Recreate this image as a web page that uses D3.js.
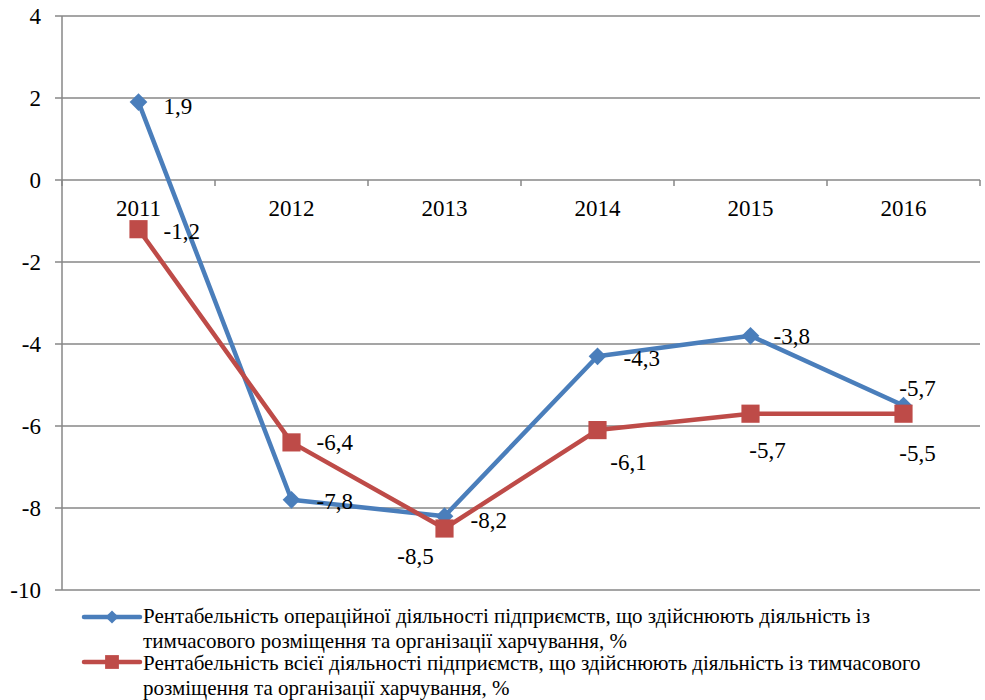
<!DOCTYPE html>
<html><head><meta charset="utf-8">
<script src="https://cdn.jsdelivr.net/npm/d3@7/dist/d3.min.js"></script>
<style>body{margin:0;background:#fff}svg{display:block}</style>
</head><body>
<script>
const years = ["2011","2012","2013","2014","2015","2016"];
const operational = [1.9, -7.8, -8.2, -4.3, -3.8, -5.5];
const total = [-1.2, -6.4, -8.5, -6.1, -5.7, -5.7];
const operationalLabels = ["1,9","-7,8","-8,2","-4,3","-3,8","-5,7"];
const totalLabels = ["-1,2","-6,4","-8,5","-6,1","-5,7","-5,5"];
const yTicks = [4, 2, 0, -2, -4, -6, -8, -10];
const legendLines = [
  ["Рентабельність операційної діяльності підприємств, що здійснюють діяльність із", "тимчасового розміщення та організації харчування, %"],
  ["Рентабельність всієї діяльності підприємств, що здійснюють діяльність із тимчасового", "розміщення та організації харчування, %"]
];

(function () {
const W = 985, H = 700;
const FONT = "'Liberation Serif', 'Times New Roman', serif";
const svg = d3.select("body").append("svg").attr("width", W).attr("height", H)
  .attr("font-family", FONT).style("font-family", FONT);
const pL = 62, pR = 980, pT = 16, pB = 590;
const x = d3.scaleBand().domain(years).range([pL, pR]);
const y = d3.scaleLinear().domain([-10, 4]).range([pB, pT]);
const cx = d => x(d) + x.bandwidth() / 2;
const gridColor = "#878787";
const blue = "#4a7ebb", red = "#be4b48";
const FS = 23;

svg.append("g").selectAll("line").data(yTicks).join("line")
  .attr("x1", pL - 7).attr("x2", pR)
  .attr("y1", d => y(d)).attr("y2", d => y(d))
  .attr("stroke", gridColor).attr("stroke-width", 1.5);
svg.append("line").attr("x1", pL).attr("x2", pL).attr("y1", pT).attr("y2", pB)
  .attr("stroke", gridColor).attr("stroke-width", 1.5);
svg.append("g").selectAll("text").data(yTicks).join("text")
  .attr("x", 41).attr("y", d => y(d)).attr("text-anchor", "end")
  .attr("dominant-baseline", "central").attr("font-size", FS).text(d => d);
const bounds = years.map(d => x(d)).concat([pR]);
svg.append("g").selectAll("line").data(bounds).join("line")
  .attr("x1", d => d).attr("x2", d => d).attr("y1", y(0)).attr("y2", y(0) + 6)
  .attr("stroke", gridColor).attr("stroke-width", 1.5);
svg.append("g").selectAll("text").data(years).join("text")
  .attr("x", d => cx(d)).attr("y", y(0) + 28).attr("text-anchor", "middle")
  .attr("dominant-baseline", "central").attr("font-size", FS).text(d => d);

const line = d3.line().x((d, i) => cx(years[i])).y(d => y(d));
svg.append("path").datum(operational).attr("d", line).attr("fill", "none")
  .attr("stroke", blue).attr("stroke-width", 4.5).attr("stroke-linejoin", "round");
svg.append("path").datum(total).attr("d", line).attr("fill", "none")
  .attr("stroke", red).attr("stroke-width", 4.5).attr("stroke-linejoin", "round");

const diamond = d3.symbol().type(d3.symbolDiamond2).size(200);
const square = d3.symbol().type(d3.symbolSquare).size(330);
svg.append("g").selectAll("path").data(operational).join("path")
  .attr("d", diamond).attr("fill", blue)
  .attr("transform", (d, i) => `translate(${cx(years[i])},${y(d)})`);
svg.append("g").selectAll("path").data(total).join("path")
  .attr("d", square).attr("fill", red)
  .attr("transform", (d, i) => `translate(${cx(years[i])},${y(d)})`);

const opPlace = [[25,4,"start"],[25,2,"start"],[26,4,"start"],[26,2,"start"],[23,1,"start"],[14,-17,"middle"]];
const totPlace = [[25,2,"start"],[25,0,"start"],[-29,28,"middle"],[31,32,"middle"],[17,37,"middle"],[14,40,"middle"]];
svg.append("g").selectAll("text").data(operational).join("text")
  .attr("x", (d, i) => cx(years[i]) + opPlace[i][0])
  .attr("y", (d, i) => y(d) + opPlace[i][1])
  .attr("text-anchor", (d, i) => opPlace[i][2])
  .attr("dominant-baseline", "central").attr("font-size", FS)
  .text((d, i) => operationalLabels[i]);
svg.append("g").selectAll("text").data(total).join("text")
  .attr("x", (d, i) => cx(years[i]) + totPlace[i][0])
  .attr("y", (d, i) => y(d) + totPlace[i][1])
  .attr("text-anchor", (d, i) => totPlace[i][2])
  .attr("dominant-baseline", "central").attr("font-size", FS)
  .text((d, i) => totalLabels[i]);

const legY = [617, 662];
const legBase = [[623, 648], [670, 695]];
const legColors = [blue, red];
const legSyms = [d3.symbol().type(d3.symbolDiamond2).size(110), d3.symbol().type(d3.symbolSquare).size(190)];
legY.forEach((ly, k) => {
  svg.append("line").attr("x1", 84).attr("x2", 140).attr("y1", ly).attr("y2", ly)
    .attr("stroke", legColors[k]).attr("stroke-width", 4.5).attr("stroke-linecap", "round");
  svg.append("path").attr("d", legSyms[k]).attr("fill", legColors[k])
    .attr("transform", `translate(112,${ly})`);
  legendLines[k].forEach((t, j) => {
    svg.append("text").attr("x", 143).attr("y", legBase[k][j])
      .attr("font-size", 21).text(t);
  });
});
})();
</script>
</body></html>
